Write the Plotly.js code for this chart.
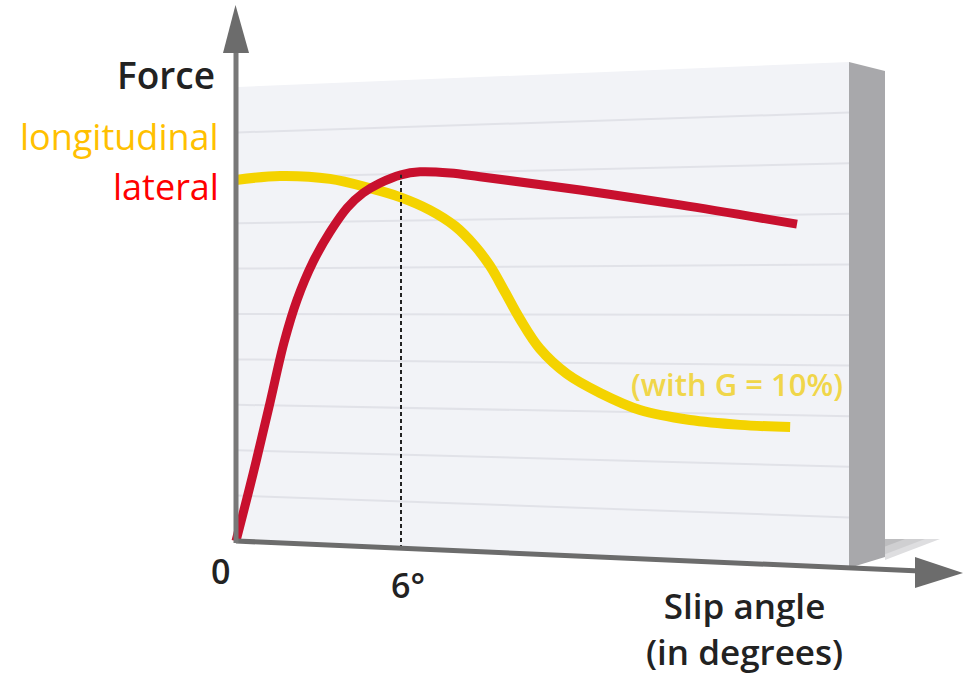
<!DOCTYPE html>
<html><head><meta charset="utf-8">
<script src="https://cdn.plot.ly/plotly-3.0.1.min.js"></script>
<style>html,body{margin:0;padding:0;background:#fff;}#chart{width:963px;height:677px;}</style>
</head><body><div id="chart"></div>
<script>
// ---- data (slip angle in degrees, force in % of lateral peak) ----
const slipAngleLateral = [0, 0.62, 1.2, 1.75, 2.22, 2.80, 3.42, 4.04, 4.62, 5.24, 6.0, 6.69, 7.78, 8.87, 12.51, 16.15, 20.40];
const lateralForce = [0, 18.1, 36.1, 53.6, 65.0, 75.2, 83.3, 89.8, 93.8, 96.5, 98.7, 99.5, 99.2, 98.2, 94.6, 90.6, 85.4];
const slipAngleLongitudinal = [0, 1.6, 3.42, 4.87, 5.96, 7.05, 7.96, 8.69, 9.24, 9.78, 10.33, 11.05, 12.04, 13.24, 14.69, 16.51, 18.33, 20.15];
const longitudinalForce = [97.3, 98.4, 97.6, 95.1, 92.7, 89.2, 84.9, 79.5, 74.1, 67.1, 59.8, 51.8, 45.0, 39.9, 35.3, 32.6, 31.3, 30.7];
const tickValues = [0, 6];
const tickLabels = ['0', '6°'];
const seriesNames = ['longitudinal', 'lateral'];
const yTitle = 'Force';
const xTitle = ['Slip angle', '(in degrees)'];
const noteText = '(with G = 10%)';
const peakAngle = 6;

// ---- layout helpers (pixel -> paper) ----
const W = 963, H = 677;
const X = px => px / W;
const Y = py => 1 - py / H;
const pt = (px, py) => X(px).toFixed(5) + ',' + Y(py).toFixed(5);
const poly = pts => 'M ' + pts.map(p => pt(p[0], p[1])).join(' L ') + ' Z';

// axis scale: origin at pixel (236,541), 27.5 px per degree, 3.71 px per force unit
const pxPerDeg = 27.5, pxPerF = 3.71, ox = 236, oy = 541;
const xRange = [(0 - ox) / pxPerDeg, (W - ox) / pxPerDeg];
const yRange = [(oy - H) / pxPerF, (oy - 0) / pxPerF];

const shapes = [];
// panel
shapes.push({type: 'path', xref: 'paper', yref: 'paper', layer: 'below',
  path: poly([[238, 87], [849, 62], [849, 568], [236, 541]]),
  fillcolor: '#f2f3f7', line: {width: 0}});
// perspective grid lines at tenths of panel height
for (let k = 1; k <= 9; k++) {
  const yl = 87 + (541 - 87) * k / 10, yr = 62 + (568 - 62) * k / 10;
  shapes.push({type: 'line', xref: 'paper', yref: 'paper', layer: 'below',
    x0: X(238), y0: Y(yl), x1: X(849), y1: Y(yr), line: {color: '#e1e2e8', width: 2}});
}
// side of the panel
shapes.push({type: 'path', xref: 'paper', yref: 'paper', layer: 'below',
  path: poly([[849, 62], [885, 71], [885, 557], [849, 568]]),
  fillcolor: '#a8a8ab', line: {width: 0}});
// shadow (fading)
[[940, '#dedee0'], [925, '#cfcfd1'], [905, '#bdbdbf']].forEach(s => {
  shapes.push({type: 'path', xref: 'paper', yref: 'paper', layer: 'below',
    path: poly([[885, 539], [s[0], 539], [885, 539 + (s[0] - 885) * 0.38]]),
    fillcolor: s[1], line: {width: 0}});
});

// dashed reference line at peak angle
const peakIdx = slipAngleLateral.indexOf(peakAngle);
shapes.push({type: 'line', xref: 'x', yref: 'y', layer: 'above',
  x0: peakAngle, x1: peakAngle, y0: (oy - 549) / pxPerF, y1: lateralForce[peakIdx],
  line: {color: '#222', width: 2, dash: '4px,3px'}});

// axes with arrows
shapes.push({type: 'line', xref: 'paper', yref: 'paper', layer: 'above',
  x0: X(236), y0: Y(541), x1: X(920), y1: Y(571), line: {color: '#6c6c6c', width: 5}});
shapes.push({type: 'path', xref: 'paper', yref: 'paper', layer: 'above',
  path: poly([[915, 557], [963, 573], [915, 588]]), fillcolor: '#6c6c6c', line: {width: 0}});
shapes.push({type: 'line', xref: 'paper', yref: 'paper', layer: 'above',
  x0: X(236), y0: Y(543), x1: X(236), y1: Y(50), line: {color: '#787878', width: 5}});
shapes.push({type: 'path', xref: 'paper', yref: 'paper', layer: 'above',
  path: poly([[223, 53], [235.5, 5], [249, 53]]), fillcolor: '#6c6c6c', line: {width: 0}});

const fontMain = 'Open Sans, Noto Sans, sans-serif';
const annotations = [
  {text: yTitle, xref: 'paper', yref: 'paper', x: X(217), y: Y(75), xanchor: 'right', yanchor: 'middle',
    showarrow: false, font: {family: fontMain, size: 37, color: '#222', weight: 600}},
  {text: seriesNames[0], xref: 'paper', yref: 'paper', x: X(221), y: Y(136), xanchor: 'right', yanchor: 'middle',
    showarrow: false, font: {family: fontMain, size: 36, color: '#ffc000'}},
  {text: seriesNames[1], xref: 'paper', yref: 'paper', x: X(221), y: Y(186), xanchor: 'right', yanchor: 'middle',
    showarrow: false, font: {family: fontMain, size: 36, color: '#ff0000'}},
  {text: xTitle.join('<br>'), xref: 'paper', yref: 'paper', x: X(744), y: Y(676), xanchor: 'center', yanchor: 'bottom',
    align: 'center', borderpad: 0, showarrow: false, font: {family: fontMain, size: 35, color: '#222', weight: 600}},
  {text: noteText, xref: 'paper', yref: 'paper', x: X(737), y: Y(384), xanchor: 'center', yanchor: 'middle',
    showarrow: false, font: {family: fontMain, size: 31, color: '#f0d64a', weight: 600}},
];
tickValues.forEach((v, i) => {
  annotations.push({text: tickLabels[i], xref: 'x', yref: 'paper', x: v, y: Y(i === 0 ? 571 : 585),
    xanchor: 'center', yanchor: 'middle', xshift: i === 0 ? -16 : 7, showarrow: false,
    font: {family: fontMain, size: 34, color: '#222', weight: 600}});
});

const traces = [
  {x: slipAngleLongitudinal, y: longitudinalForce, name: seriesNames[0], type: 'scatter', mode: 'lines',
    line: {color: '#f4d300', width: 10, shape: 'spline', smoothing: 1}},
  {x: slipAngleLateral, y: lateralForce, name: seriesNames[1], type: 'scatter', mode: 'lines',
    line: {color: '#c8102e', width: 9, shape: 'spline', smoothing: 1}},
];

const layout = {
  width: W, height: H, margin: {l: 0, r: 0, t: 0, b: 0},
  paper_bgcolor: '#ffffff', plot_bgcolor: 'rgba(0,0,0,0)', showlegend: false,
  xaxis: {range: xRange, visible: false, fixedrange: true},
  yaxis: {range: yRange, visible: false, fixedrange: true},
  shapes: shapes, annotations: annotations,
};
Plotly.newPlot('chart', traces, layout, {staticPlot: true, displayModeBar: false});
</script></body></html>
